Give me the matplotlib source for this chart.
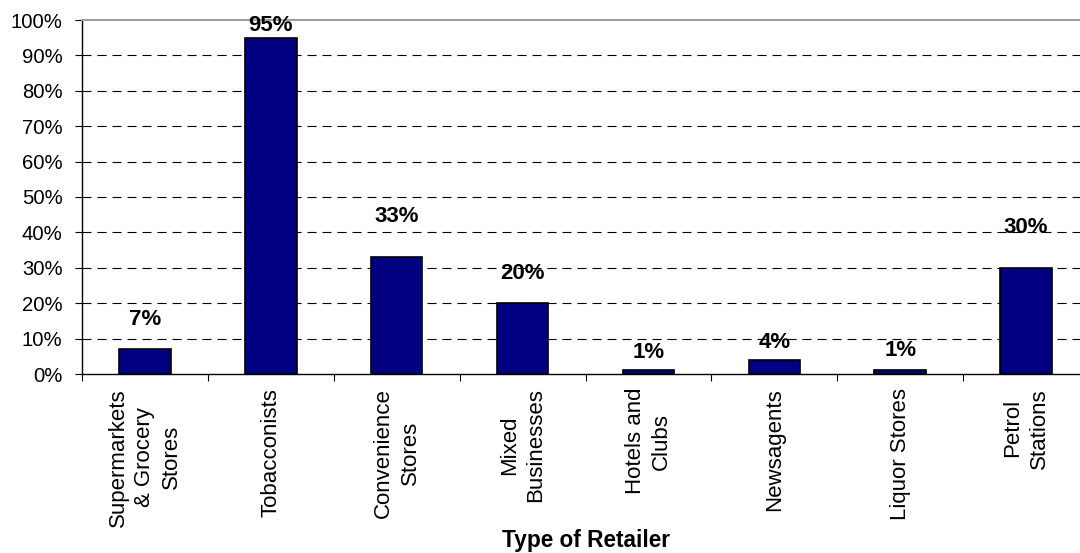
import matplotlib
matplotlib.use("Agg")
import matplotlib.pyplot as plt
import numpy as np

# Share of retailers by type
categories = [
    "Supermarkets\n& Grocery\nStores",
    "Tobacconists",
    "Convenience\nStores",
    "Mixed\nBusinesses",
    "Hotels and\nClubs",
    "Newsagents",
    "Liquor Stores",
    "Petrol\nStations",
]
values = [7, 95, 33, 20, 1, 4, 1, 30]
y_ticks = [0, 10, 20, 30, 40, 50, 60, 70, 80, 90, 100]
y_tick_labels = [f"{t}%" for t in y_ticks]
x_title = "Type of Retailer"

# gap (in points) between each bar top and its value label
label_gaps_pt = [13.5, 1.0, 22, 13.5, 5.5, 5, 6.5, 21.5]

plt.rcParams["font.family"] = ["Liberation Sans", "DejaVu Sans"]
plt.rcParams["lines.scale_dashes"] = False

fig = plt.figure(figsize=(10.8, 5.53), dpi=100)
ax = fig.add_axes([82 / 1080, 1 - 374 / 553, (1089 - 82) / 1080, (374 - 20) / 553])

x = np.arange(len(categories))
bars = ax.bar(x, values, width=0.41, color="#000080", edgecolor="black",
              linewidth=1.2, zorder=3)

ax.set_xlim(-0.5, len(categories) - 0.5)
ax.set_ylim(0, 100)

# dashed horizontal gridlines
for t in y_ticks[1:-1]:
    ax.axhline(t, color="black", linewidth=0.8, linestyle=(0, (6.5, 4.3)), zorder=1)

ax.set_yticks(y_ticks)
ax.set_yticklabels(y_tick_labels, fontsize=14.6)
ax.tick_params(axis="y", direction="out", length=5, width=0.8, pad=9, colors="black")

ax.set_xticks(x)
ax.set_xticklabels(categories, rotation=90, fontsize=16, ha="center", va="top",
                   multialignment="center", linespacing=1.35)
ax.tick_params(axis="x", which="major", length=0, pad=10)
ax.set_xticks(np.arange(len(categories) + 1) - 0.5, minor=True)
ax.tick_params(axis="x", which="minor", direction="out", length=5, width=0.8)

ax.spines["right"].set_visible(False)
ax.spines["top"].set_color("#a0a0a0")
ax.spines["top"].set_linewidth(1.5)
ax.spines["left"].set_linewidth(1.0)
ax.spines["bottom"].set_linewidth(1.0)

for b, v, g in zip(bars, values, label_gaps_pt):
    ax.annotate(f"{v}%", xy=(b.get_x() + b.get_width() / 2, v),
                xytext=(0, g), textcoords="offset points",
                ha="center", va="bottom", fontsize=16, fontweight="bold",
                annotation_clip=False, zorder=4)

fig.text((82 + 1089) / 2 / 1080, 1 - 540 / 553, x_title, ha="center", va="center",
         fontsize=16.3, fontweight="bold")

fig.savefig("out.png", dpi=100)
